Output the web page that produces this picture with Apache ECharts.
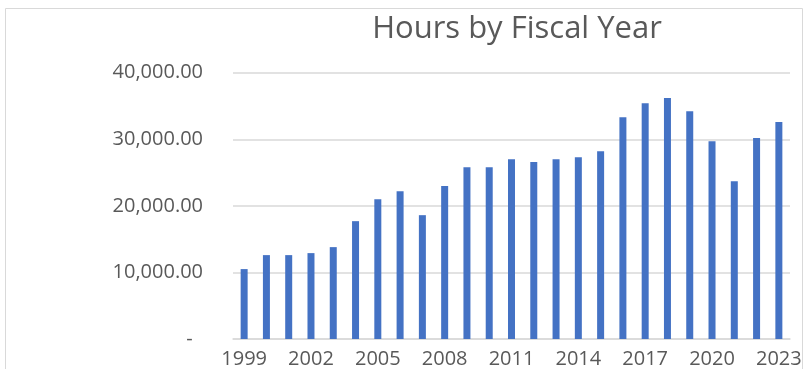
<!DOCTYPE html>
<html><head><meta charset="utf-8">
<script src="https://cdn.jsdelivr.net/npm/echarts@6/dist/echarts.min.js"></script>
<style>html,body{margin:0;padding:0;background:#fff;}#c{width:806px;height:369px;}</style>
</head><body><div id="c"></div>
<script>
const years = ['1999','2000','2001','2002','2003','2004','2005','2006','2007','2008','2009','2010','2011','2012','2013','2014','2015','2016','2017','2018','2019','2020','2021','2022','2023'];
const hours = [10500,12600,12600,12900,13800,17700,21000,22200,18600,23000,25800,25800,27000,26600,27000,27300,28200,33300,35400,36200,34200,29700,23700,30200,32600];
const yTicks = [0,10000,20000,30000,40000];
const titleText = 'Hours by Fiscal Year';

const chart = echarts.init(document.getElementById('c'), null, {renderer:'canvas'});
chart.setOption({
  animation:false,
  graphic:[{type:'rect', shape:{x:5.5,y:8.5,width:797,height:400}, style:{fill:'none', stroke:'#d9d9d9', lineWidth:1}, silent:true}],
  title:{text:titleText, left:512, textAlign:'center', top:9, textStyle:{fontFamily:'Open Sans', fontWeight:'normal', fontSize:31, color:'#595959'}},
  grid:{left:233, right:16, top:72.7, bottom:29.7, containLabel:false},
  xAxis:{type:'category', data:years,
    axisLine:{lineStyle:{color:'#d9d9d9', width:1.5}}, axisTick:{show:false},
    axisLabel:{interval:2, color:'#595959', fontFamily:'Open Sans', fontSize:20, margin:10}},
  yAxis:{type:'value', min:yTicks[0], max:yTicks[yTicks.length-1], interval:10000,
    axisLine:{show:false}, axisTick:{show:false},
    splitLine:{lineStyle:{color:'#d9d9d9', width:1.5}},
    axisLabel:{color:'#595959', fontFamily:'Open Sans', fontSize:20, margin:30,
      formatter:v=> v===0 ? '-  ' : v.toLocaleString('en-US',{minimumFractionDigits:2, maximumFractionDigits:2})}},
  series:[{type:'bar', data:hours, barWidth:7, itemStyle:{color:'#4472C4'}}]
});
</script></body></html>
